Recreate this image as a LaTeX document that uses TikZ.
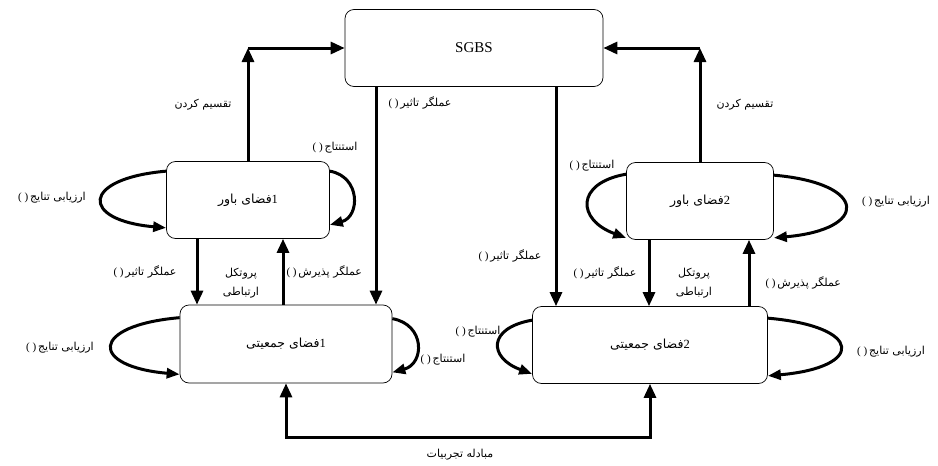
\documentclass[tikz,border=0pt]{standalone}
\usepackage{fontspec}
\setmainfont{Liberation Serif}
\newfontfamily\farsi[Script=Arabic]{DejaVu Sans}
\TeXXeTstate=1
\usetikzlibrary{arrows.meta,positioning}

% persian text, right to left
\newcommand{\fa}[1]{{\farsi\beginR #1\endR}}
\newcommand{\op}[1]{( )\,\fa{#1}}

\begin{document}
\begin{tikzpicture}[x=1pt,y=1pt,
  box/.style={draw,rounded corners=9pt,line width=0.7pt,minimum height=77pt,inner sep=0pt,font=\fontsize{12.5}{14}\selectfont},
  flow/.style={line width=3pt,-{Triangle[length=14pt,width=12pt]}},
  twoway/.style={line width=3pt,{Triangle[length=14pt,width=12pt]}-{Triangle[length=14pt,width=12pt]}},
  selfarc/.style={line width=3pt,-{Triangle[length=13pt,width=10pt]}},
  lbl/.style={font=\fontsize{11}{19}\selectfont,inner sep=1pt}]
\useasboundingbox (0,0) rectangle (938,-466);

\node[box,minimum width=258pt] (SGBS) at (474,-48) {\fontsize{15}{17}\selectfont SGBS};
\node[box,minimum width=163pt] (bel1) at (248,-200) {\fa{فضای باور}1};
\node[box,minimum width=147pt] (bel2) at (700,-201) {\fa{فضای باور}2};
\node[box,minimum width=212pt,minimum height=78pt] (col1) at (286,-344) {\fa{فضای جمعیتی}1};
\node[box,minimum width=235pt] (col2) at (650,-345) {\fa{فضای جمعیتی}2};

% x positions of the vertical links
\coordinate (s1) at (376,0);
\coordinate (s2) at (556,0);
\coordinate (d1) at (197,0);
\coordinate (u1) at (283,0);
\coordinate (d2) at (649,0);
\coordinate (u2) at (749,0);
\coordinate (xch) at (460,-437);

% belief spaces up to SGBS
\path[flow] (bel1.north) edge node[lbl,left=14pt] {\fa{تقسیم کردن}} (bel1.north |- SGBS.west);
\path[flow] (bel1.north |- SGBS.west) edge (SGBS.west);
\path[flow] (bel2.north) edge node[lbl,right=14pt] {\fa{تقسیم کردن}} (bel2.north |- SGBS.east);
\path[flow] (bel2.north |- SGBS.east) edge (SGBS.east);

% SGBS down to the population spaces
\path[flow] (SGBS.south -| s1) edge node[lbl,pos=0.075,right=10pt] {\op{عملگر تاثیر}} (col1.north -| s1);
\path[flow] (SGBS.south -| s2) edge node[lbl,pos=0.77,left=12pt] {\op{عملگر تاثیر}} (col2.north -| s2);

% belief <-> population
\path[flow] (bel1.south -| d1) edge node[lbl,left=18pt] {\op{عملگر تاثیر}} (col1.north -| d1);
\path[flow] (col1.north -| u1) edge node[lbl,pos=0.5,right=1pt] {\op{عملگر پذیرش}} (bel1.south -| u1);
\path[flow] (bel2.south -| d2) edge node[lbl,left=10pt] {\op{عملگر تاثیر}} (col2.north -| d2);
\path[flow] (col2.north -| u2) edge node[lbl,pos=0.35,right=14pt] {\op{عملگر پذیرش}} (bel2.south -| u2);
\node[lbl,align=center] (pc1) at (241,-283) {\fa{پروتکل}\\\fa{ارتباطی}};
\node[lbl,align=center] (pc2) at (694,-283) {\fa{پروتکل}\\\fa{ارتباطی}};

% self loops
\draw[selfarc] ([yshift=-10]bel1.north west) to[out=185,in=175,looseness=3.9] ([yshift=11]bel1.south west);
\draw[selfarc] ([yshift=-10]bel1.north east) to[out=-10,in=15,looseness=1.5] ([yshift=14]bel1.south east);
\draw[selfarc] ([yshift=-12]bel2.north west) to[out=190,in=160,looseness=2.1] ([yshift=2]bel2.south west);
\draw[selfarc] ([yshift=-13]bel2.north east) to[out=-5,in=5,looseness=3.9] ([yshift=2]bel2.south east);
\draw[selfarc] ([yshift=-13]col1.north west) to[out=185,in=175,looseness=4.1] ([yshift=9]col1.south west);
\draw[selfarc] ([yshift=-14]col1.north east) to[out=-10,in=15,looseness=1.6] ([yshift=11]col1.south east);
\draw[selfarc] ([yshift=-14]col2.north west) to[out=190,in=160,looseness=2.2] ([yshift=10]col2.south west);
\draw[selfarc] ([yshift=-12]col2.north east) to[out=-5,in=5,looseness=4.3] ([yshift=8]col2.south east);

\node[lbl] (ev1) at (52,-198) {\op{ارزیابی تنایج}};
\node[lbl] (in1) at (335,-148) {\op{استنتاج}};
\node[lbl] (in2) at (592,-166) {\op{استنتاج}};
\node[lbl] (ev2) at (896,-202) {\op{ارزیابی تنایج}};
\node[lbl] (ev3) at (60,-348) {\op{ارزیابی تنایج}};
\node[lbl] (in3) at (443,-360) {\op{استنتاج}};
\node[lbl] (in4) at (478,-332) {\op{استنتاج}};
\node[lbl] (ev4) at (891,-352) {\op{ارزیابی تنایج}};

% experience exchange
\draw[twoway] (col1.south) |- (xch) -| (col2.south);
\node[lbl,below=11pt] (ex) at (xch) {\fa{مبادله تجربیات}};
\end{tikzpicture}
\end{document}
